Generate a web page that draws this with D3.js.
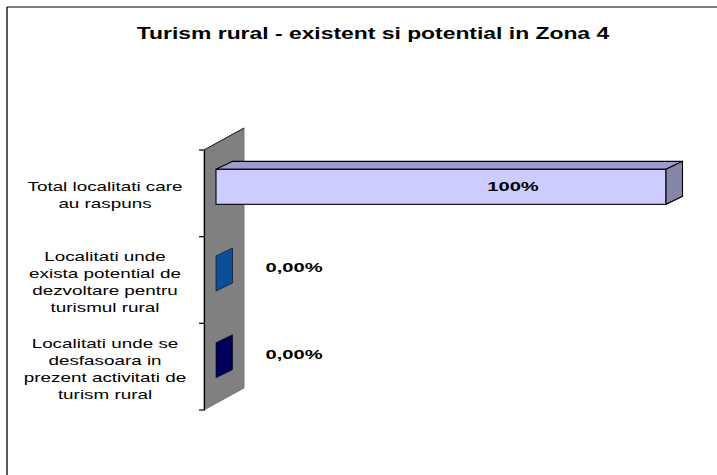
<!DOCTYPE html>
<html>
<head>
<meta charset="utf-8">
<script src="https://cdn.jsdelivr.net/npm/d3@7"></script>
<style>
  body { margin: 0; background: #fff; }
  text { font-family: "Liberation Sans", Arial, sans-serif; fill: #000; }
</style>
</head>
<body>
<div id="chart"></div>
<script>
// chart data
var title = "Turism rural - existent si potential in Zona 4"
var categories = ["total", "potential", "activ"]
var catLines = [
    ["Total localitati care", "au raspuns"],
    ["Localitati unde", "exista potential de", "dezvoltare pentru", "turismul rural"],
    ["Localitati unde se", "desfasoara in", "prezent activitati de", "turism rural"]
]
var values = [100, 0, 0]
var valueLabels = ["100%", "0,00%", "0,00%"]
var barColors = [
    {front: "#ccccff", top: "#9c9ccd", side: "#8585aa"},
    {front: "#0b4f9a", top: "#083c75", side: "#0b4f9a"},
    {front: "#00005a", top: "#000044", side: "#00005a"}
]

var W = 717, H = 475
var svg = d3.select("#chart").append("svg").attr("width", W).attr("height", H)

// frame
svg.append("line").attr("x1", 7).attr("y1", 7).attr("x2", W).attr("y2", 7)
    .attr("stroke", "#555").attr("stroke-width", 1.3)
svg.append("line").attr("x1", 7).attr("y1", 7).attr("x2", 7).attr("y2", H)
    .attr("stroke", "#000").attr("stroke-width", 1.3)

// stretched text helper (excel export looks horizontally stretched)
function stretchText(g, x, y, str, size, weight, sx){
    var t = g.append("text")
        .attr("text-anchor", "middle")
        .attr("font-size", size)
        .attr("font-weight", weight)
        .attr("transform", "translate(" + x + "," + y + ") scale(" + sx + ",1)")
        .text(str)
    return t
}

stretchText(svg, 373, 39, title, 16, "bold", 1.43)

// plot geometry
var x0 = 204, yTop = 150, yBot = 410
var wallDepth = [40, -22]
var barOff = [12, -6.5]     // front face of bars sits inside the wall depth
var barDepth = [16.5, -8]

var x = d3.scaleLinear().domain([0, 100]).range([x0, 654])
var y = d3.scaleBand().domain(categories).range([yTop, yBot]).padding(0)
var barH = y.bandwidth() * 0.404

// wall
svg.append("polygon")
    .attr("points", [[x0, yTop], [x0 + wallDepth[0], yTop + wallDepth[1]],
        [x0 + wallDepth[0], yBot + wallDepth[1]], [x0, yBot]].map(p => p.join(",")).join(" "))
    .attr("fill", "#808080")
    .attr("stroke", "#6a6a6a").attr("stroke-width", 0.8)
svg.append("line").attr("x1", x0).attr("y1", yTop).attr("x2", x0 + wallDepth[0]).attr("y2", yTop + wallDepth[1])
    .attr("stroke", "#222").attr("stroke-width", 1)

// category axis
var axis = d3.axisLeft(y).tickSize(0).tickFormat("")
var ag = svg.append("g").attr("transform", "translate(" + x0 + ",0)").call(axis)
ag.select(".domain").attr("stroke", "#000").attr("stroke-width", 1.2)
var edges = categories.map(c => y(c)).concat([yBot])
ag.selectAll("line.edge").data(edges).enter().append("line")
    .attr("class", "edge")
    .attr("x1", -5).attr("x2", 0)
    .attr("y1", d => d).attr("y2", d => d)
    .attr("stroke", "#000").attr("stroke-width", 1.2)

// category labels
categories.forEach(function(c, i){
    var lines = catLines[i]
    var lh = 17
    var mid = y(c) + y.bandwidth() / 2 + 2
    var first = mid - (lines.length - 1) * lh / 2 + 4.5
    lines.forEach(function(l, j){
        stretchText(svg, 105, first + j * lh, l, 13, "normal", 1.45)
    })
})

// bars
var bars = svg.selectAll("g.bar").data(values).enter().append("g").attr("class", "bar")
bars.each(function(v, i){
    var g = d3.select(this)
    var xa = x(0) + barOff[0], xb = x(v) + barOff[0]
    var yt = y(categories[i]) + (y.bandwidth() - barH) / 2 + barOff[1]
    var yb = yt + barH
    var dx = barDepth[0], dy = barDepth[1]
    var col = barColors[i]
    var sw = v > 0 ? 1.1 : 0.6
    // top face
    if (v > 0) {
        g.append("polygon")
            .attr("points", [[xa, yt], [xa + dx, yt + dy], [xb + dx, yt + dy], [xb, yt]].map(p => p.join(",")).join(" "))
            .attr("fill", col.top).attr("stroke", "#000").attr("stroke-width", sw)
        g.append("rect")
            .attr("x", xa).attr("y", yt).attr("width", xb - xa).attr("height", barH)
            .attr("fill", col.front).attr("stroke", "#000").attr("stroke-width", sw)
    }
    // end face
    g.append("polygon")
        .attr("points", [[xb, yt], [xb + dx, yt + dy], [xb + dx, yb + dy], [xb, yb]].map(p => p.join(",")).join(" "))
        .attr("fill", col.side).attr("stroke", "#000").attr("stroke-width", sw)
})

// value labels
values.forEach(function(v, i){
    var cx = v >= 100 ? x(v) + barOff[0] - 153 : x(v) + barOff[0] + 78
    var cy = y(categories[i]) + y.bandwidth() / 2 + barOff[1] + 4.5 + (v >= 100 ? 0 : -6)
    stretchText(svg, cx, cy, valueLabels[i], 13, "bold", 1.55)
})
</script>
</body>
</html>
